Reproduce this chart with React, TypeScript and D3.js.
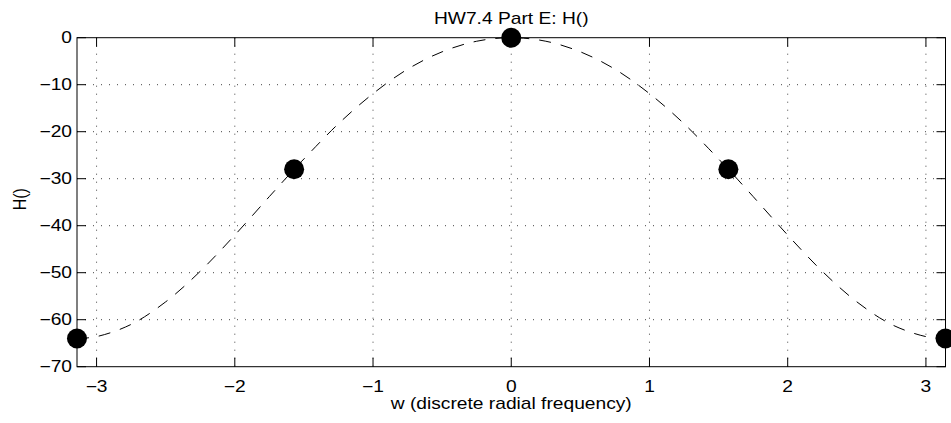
import * as d3 from "d3";
import { useEffect, useRef } from "react";

const curveW = [
  -3.1416, -3, -2.75, -2.5, -2.25, -2, -1.75, -1.5708, -1.5, -1.25, -1, -0.75, -0.5, -0.25, 0,
  0.25, 0.5, 0.75, 1, 1.25, 1.5, 1.5708, 1.75, 2, 2.25, 2.5, 2.75, 3, 3.1416,
];
const curveH = [
  -64, -63.6, -61.0, -56.2, -49.7, -42.0, -33.8, -28.0, -25.8, -18.3, -11.9, -6.7, -3.0, -0.75, 0,
  -0.75, -3.0, -6.7, -11.9, -18.3, -25.8, -28.0, -33.8, -42.0, -49.7, -56.2, -61.0, -63.6, -64,
];

// The five marked samples
const sampleW = [-3.1416, -1.5708, 0, 1.5708, 3.1416];
const sampleH = [-64, -28, 0, -28, -64];

const xTicks = [-3, -2, -1, 0, 1, 2, 3];
const yTicks = [-70, -60, -50, -40, -30, -20, -10, 0];

const titleText = "HW7.4 Part E: H()";
const xLabelText = "w (discrete radial frequency)";
const yLabelText = "H()";

const W = 951;
const H = 423;

const App = () => {
  const svgRef = useRef<SVGSVGElement | null>(null);

  useEffect(() => {
    if (!svgRef.current) return;
    const svg = d3.select(svgRef.current);
    svg.selectAll("*").remove();

    const left = 77;
    const right = 945.5;
    const top = 37.7;
    const bottom = 366.7;
    const tickLen = 9;
    const font = "'Liberation Sans', Arial, Helvetica, sans-serif";
    const stretch = 1.2; // the exported text is wider than it is tall

    const x = d3.scaleLinear().domain([-Math.PI, Math.PI]).range([left, right]);
    const y = d3.scaleLinear().domain([-70, 0]).range([bottom, top]);

    svg.append("rect").attr("width", W).attr("height", H).attr("fill", "white");

    // --- dotted grid ---
    const grid = svg
      .append("g")
      .attr("stroke", "#444")
      .attr("stroke-width", 1)
      .attr("stroke-dasharray", "1,7");
    xTicks.forEach((t) => {
      grid
        .append("line")
        .attr("x1", x(t))
        .attr("x2", x(t))
        .attr("y1", bottom)
        .attr("y2", top);
    });
    yTicks
      .filter((t) => t > -70 && t < 0)
      .forEach((t) => {
        grid
          .append("line")
          .attr("x1", left)
          .attr("x2", right)
          .attr("y1", y(t))
          .attr("y2", y(t));
      });

    // --- box + inward ticks on all sides ---
    const axes = svg.append("g").attr("stroke", "black").attr("stroke-width", 1).attr("fill", "none");
    axes
      .append("rect")
      .attr("x", left)
      .attr("y", top)
      .attr("width", right - left)
      .attr("height", bottom - top);
    xTicks.forEach((t) => {
      axes.append("line").attr("x1", x(t)).attr("x2", x(t)).attr("y1", bottom).attr("y2", bottom - tickLen);
      axes.append("line").attr("x1", x(t)).attr("x2", x(t)).attr("y1", top).attr("y2", top + tickLen);
    });
    yTicks.forEach((t) => {
      axes.append("line").attr("x1", left).attr("x2", left + tickLen).attr("y1", y(t)).attr("y2", y(t));
      axes.append("line").attr("x1", right).attr("x2", right - tickLen).attr("y1", y(t)).attr("y2", y(t));
    });

    // --- dashed response curve ---
    const line = d3
      .line<number>()
      .x((_d, i) => x(curveW[i]))
      .y((d) => y(d))
      .curve(d3.curveCatmullRom);
    svg
      .append("path")
      .attr("d", line(curveH))
      .attr("fill", "none")
      .attr("stroke", "black")
      .attr("stroke-width", 1)
      .attr("stroke-dasharray", "12,10");

    // --- sample markers ---
    svg
      .append("g")
      .selectAll("circle")
      .data(sampleH)
      .join("circle")
      .attr("cx", (_d, i) => x(sampleW[i]))
      .attr("cy", (d) => y(d))
      .attr("r", 10)
      .attr("fill", "black");

    // --- text ---
    const addText = (
      str: string,
      tx: number,
      ty: number,
      anchor: string,
      baseline: string,
      rotate = 0
    ) => {
      svg
        .append("text")
        .attr("transform", `translate(${tx},${ty}) scale(${stretch},1) rotate(${rotate})`)
        .attr("text-anchor", anchor)
        .attr("dominant-baseline", baseline)
        .attr("font-family", font)
        .attr("font-size", 16)
        .attr("fill", "black")
        .text(str);
    };

    xTicks.forEach((t) => {
      addText(t < 0 ? `\u2212${Math.abs(t)}` : `${t}`, x(t), 392, "middle", "auto");
    });
    yTicks.forEach((t) => {
      addText(t < 0 ? `\u2212${Math.abs(t)}` : `${t}`, 72, y(t), "end", "central");
    });

    addText(titleText, (left + right) / 2, 24, "middle", "auto");
    addText(xLabelText, (left + right) / 2, 409, "middle", "auto");
    addText(yLabelText, 26, (top + bottom) / 2 - 3, "middle", "auto", -90);
  }, []);

  return (
    <svg
      ref={svgRef}
      width={W}
      height={H}
      style={{ position: "absolute", left: 0, top: 0, display: "block" }}
    />
  );
};

export default App;
